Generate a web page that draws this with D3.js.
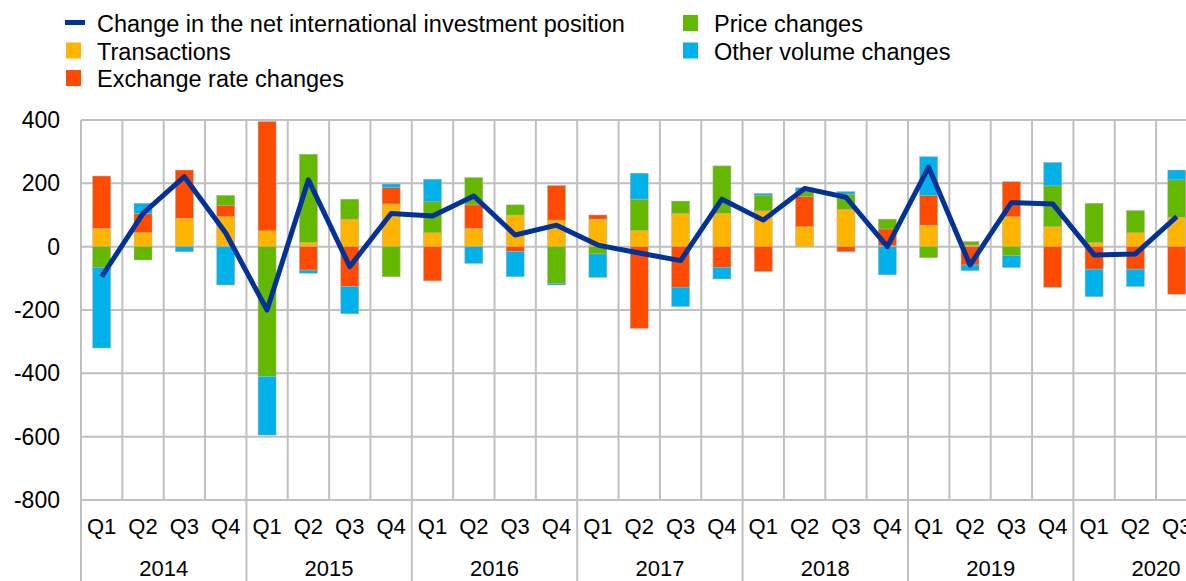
<!DOCTYPE html>
<html>
<head>
<meta charset="utf-8">
<script src="https://cdn.jsdelivr.net/npm/d3@7"></script>
<style>
  body { margin: 0; background: #fff; }
  svg { display: block; font-family: "Liberation Sans", Arial, sans-serif; }
</style>
</head>
<body>
<div id="chart"></div>
<script>
// quarters 2014 Q1 .. 2020 Q3
var years = ["2014", "2015", "2016", "2017", "2018", "2019", "2020"]
var quarters = ["Q1", "Q2", "Q3", "Q4"]
var periods = []
years.forEach(function(y){ quarters.forEach(function(q){ periods.push(y + q) }) })
periods = periods.slice(0, 27)

var transactions = [58, 45, 90, 95, 50, 14, 87, 135, 44, 58, 100, 84, 87, 51, 105, 105, 113, 63, 118, 3, 68, 5, 95, 63, 13, 44, 93]
var exchangeRate = [165, 60, 152, 36, 345, -74, -126, 51, -108, 74, -16, 109, 13, -258, -128, -65, -78, 95, -16, 53, 93, -58, 110, -128, -71, -71, -150]
var priceChanges = [-65, -42, 0, 31, -410, 278, 63, -95, 98, 86, 32, -116, -23, 99, 39, 150, 48, 18, 48, 31, -35, 11, -28, 129, 124, 70, 118]
var otherVolume = [-255, 32, -16, -121, -185, -10, -86, 12, 71, -53, -79, -5, -74, 82, -61, -37, 7, 10, 8, -89, 123, -18, -38, 74, -87, -55, 31]
var netPosition = [-95, 105, 221, 43, -200, 211, -63, 105, 97, 160, 37, 68, 5, -20, -44, 150, 84, 184, 156, 0, 251, -58, 139, 135, -26, -23, 95]
var yTicks = [400, 200, 0, -200, -400, -600, -800]

var W = 1186, H = 581
var plotLeft = 81, step = 41.35
var plotRight = plotLeft + step * periods.length
var plotTop = 120, plotBottom = 500

var keys = ["transactions", "exchange", "price", "other"]
var colors = { transactions: "#ffb400", exchange: "#ff4b00", price: "#65b800", other: "#00b1ea" }

var rows = periods.map(function(p, i){
    return { period: p, transactions: transactions[i], exchange: exchangeRate[i],
             price: priceChanges[i], other: otherVolume[i], net: netPosition[i] }
})

var svg = d3.select("#chart").append("svg")
    .attr("width", W)
    .attr("height", H)

var x = d3.scaleBand()
    .domain(periods)
    .range([plotLeft, plotRight])
    .paddingInner(0.565)
    .paddingOuter(0.2825)

var xCell = d3.scaleBand()
    .domain(periods)
    .range([plotLeft, plotRight])
    .padding(0)

var y = d3.scaleLinear()
    .domain([-800, 400])
    .range([plotBottom, plotTop])

// grid
var grid = svg.append("g").attr("stroke", "#c0c0c0").attr("stroke-width", 2)
grid.selectAll(".hgrid")
    .data(yTicks)
    .enter().append("line")
    .attr("x1", plotLeft).attr("x2", plotRight)
    .attr("y1", d => y(d)).attr("y2", d => y(d))
grid.selectAll(".vgrid")
    .data(periods)
    .enter().append("line")
    .attr("x1", d => xCell(d)).attr("x2", d => xCell(d))
    .attr("y1", plotTop).attr("y2", plotBottom)
// year separators below axis
grid.selectAll(".ysep")
    .data(years)
    .enter().append("line")
    .attr("x1", d => xCell(d + "Q1")).attr("x2", d => xCell(d + "Q1"))
    .attr("y1", plotBottom).attr("y2", H)

// y labels
svg.append("g").selectAll("text")
    .data(yTicks)
    .enter().append("text")
    .attr("x", 60)
    .attr("y", d => y(d))
    .attr("dy", "0.35em")
    .attr("text-anchor", "end")
    .attr("font-size", 23)
    .attr("fill", "#000")
    .text(d => d)

// stacked bars
var series = d3.stack()
    .keys(keys)
    .offset(d3.stackOffsetDiverging)(rows)

svg.append("g").selectAll("g")
    .data(series)
    .enter().append("g")
    .attr("fill", d => colors[d.key])
    .selectAll("rect")
    .data(d => d)
    .enter().append("rect")
    .attr("x", d => x(d.data.period))
    .attr("width", x.bandwidth())
    .attr("y", d => y(Math.max(d[0], d[1])))
    .attr("height", d => Math.abs(y(d[0]) - y(d[1])))
    .attr("stroke", "#b0b0b0")
    .attr("stroke-width", 0.5)

// net position line
var line = d3.line()
    .x(d => x(d.period) + x.bandwidth() / 2)
    .y(d => y(d.net))

svg.append("path")
    .datum(rows)
    .attr("fill", "none")
    .attr("stroke", "#003299")
    .attr("stroke-width", 5)
    .attr("stroke-linejoin", "round")
    .attr("d", line)

// x labels
svg.append("g").selectAll("text")
    .data(periods)
    .enter().append("text")
    .attr("x", d => xCell(d) + step / 2)
    .attr("y", 534)
    .attr("text-anchor", "middle")
    .attr("font-size", 22)
    .attr("fill", "#000")
    .text(d => d.slice(4))

svg.append("g").selectAll("text")
    .data(years)
    .enter().append("text")
    .attr("x", d => xCell(d + "Q1") + step * 2)
    .attr("y", 576)
    .attr("text-anchor", "middle")
    .attr("font-size", 22)
    .attr("fill", "#000")
    .text(d => d)

// legend
var legendItems = [
    { label: "Change in the net international investment position", color: "#003299", line: true, x: 65, y: 32 },
    { label: "Transactions", color: colors.transactions, x: 66, y: 59.5 },
    { label: "Exchange rate changes", color: colors.exchange, x: 66, y: 87 },
    { label: "Price changes", color: colors.price, x: 683, y: 32 },
    { label: "Other volume changes", color: colors.other, x: 683, y: 59.5 }
]
var legend = svg.append("g")
legendItems.forEach(function(d){
    if (d.line) {
        legend.append("rect")
            .attr("x", d.x).attr("y", d.y - 12)
            .attr("width", 20).attr("height", 5)
            .attr("fill", d.color)
    } else {
        legend.append("rect")
            .attr("x", d.x).attr("y", d.y - 17)
            .attr("width", 15).attr("height", 16)
            .attr("fill", d.color)
    }
    legend.append("text")
        .attr("x", d.x + (d.line ? 32 : 31))
        .attr("y", d.y)
        .attr("font-size", 23.5)
        .attr("fill", "#000")
        .text(d.label)
})
</script>
</body>
</html>
